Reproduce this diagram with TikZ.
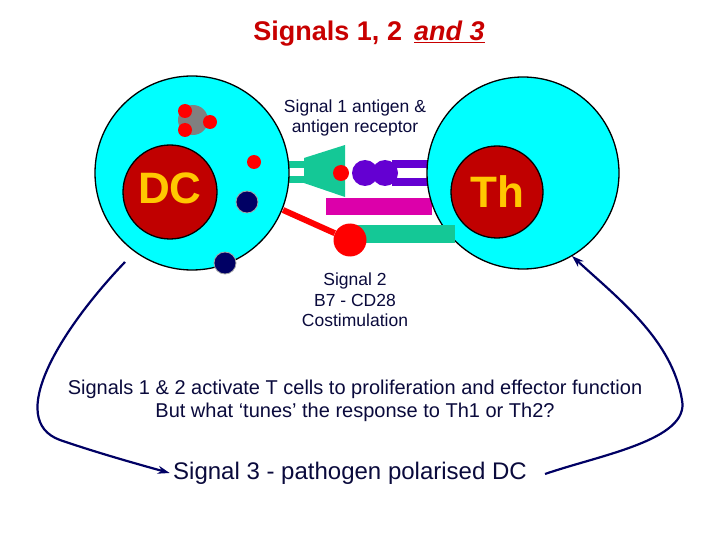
\documentclass[tikz,border=0pt]{standalone}
\usepackage{fontspec}
\setmainfont{Liberation Sans}
\usetikzlibrary{arrows.meta}
\definecolor{cyanc}{RGB}{0,255,255}
\definecolor{nuc}{RGB}{192,0,0}
\definecolor{navy}{RGB}{0,0,100}
\definecolor{txt}{RGB}{10,10,60}
\definecolor{teal}{RGB}{20,200,150}
\definecolor{purp}{RGB}{100,0,210}
\definecolor{mag}{RGB}{220,0,170}
\definecolor{ttl}{RGB}{200,0,0}
\definecolor{yel}{RGB}{255,200,0}
\tikzset{cell/.style={circle,draw=black,line width=1.3pt,fill=cyanc},
 nucl/.style={circle,draw=black,line width=1.3pt,fill=nuc},
 dot/.style={circle,fill=red,inner sep=0pt},
 ndot/.style={circle,fill=navy,draw=gray!70,line width=0.8pt,inner sep=0pt},
 lbl/.style={text=txt,align=center,font=\fontsize{17.5}{20.5}\selectfont},
 arr/.style={draw=navy,line width=2.2pt,-{Stealth[length=12pt,width=8pt]}}}
\begin{document}
\begin{tikzpicture}[x=1pt,y=-1pt]
\useasboundingbox[fill=white] (0,0) rectangle (720,540);
% bars behind cells
\fill[teal] (288,161) rectangle (306,168);
\fill[teal] (288,176) rectangle (306,183);
\fill[purp] (392,160) rectangle (432,168);
\fill[purp] (392,178) rectangle (432,186);
\fill[mag] (326,198) rectangle (432,215);
\node[cell,minimum size=194pt] (dc) at (192,173) {};
\node[cell,minimum size=192pt] (th) at (523,173) {};
\fill[teal] (357,225) rectangle (455,243);
\node[circle,fill=gray,inner sep=0pt,minimum size=30pt] (gb) at (193,120) {};
\node[dot,minimum size=14pt] (r1) at (185,111) {};
\node[dot,minimum size=14pt] (r2) at (210,122) {};
\node[dot,minimum size=14pt] (r3) at (185,130) {};
\node[dot,minimum size=14pt] (r4) at (254,162) {};
\node[ndot,minimum size=22pt] (n1) at (247,202) {};
\node[ndot,minimum size=22pt] (n2) at (225,263) {};
\node[nucl,minimum size=94pt,inner sep=0pt,font=\fontsize{44}{44}\selectfont\bfseries,text=yel] (dcn) at (170,192) {\raisebox{8pt}{DC}};
\node[nucl,minimum size=92pt,inner sep=0pt,font=\fontsize{44}{44}\selectfont\bfseries,text=yel] (thn) at (497,192) {\raisebox{-12pt}{Th}};
% receptor
\fill[teal] (304,158) -- (345,145) -- (345,197) -- (304,183) -- cycle;
\node[circle,fill=purp,inner sep=0pt,minimum size=26pt] (p1) at (365,173) {};
\node[circle,fill=purp,inner sep=0pt,minimum size=26pt] (p2) at (385,173) {};
\node[dot,minimum size=16pt] (ag) at (341,173) {};
% B7
\node[dot,minimum size=33pt] (b7) at (350,240) {};
\coordinate (b7s) at (283,210);
\draw[red,line width=6pt] (b7s) -- (b7);
% text
\node[font=\fontsize{27}{30}\selectfont\bfseries,text=ttl] (title) at (369,34) {Signals 1, 2\, \underline{\itshape and 3}};
\node[lbl] (s1) at (355,118) {Signal 1 antigen \&\\antigen receptor};
\node[lbl] (s2) at (355,300) {Signal 2\\B7 - CD28\\Costimulation};
\node[text=txt,align=center,font=\fontsize{20}{23}\selectfont] (main) at (355,401) {Signals 1 \& 2 activate T cells to proliferation and effector function\\But what `tunes' the response to Th1 or Th2?};
\node[text=txt,font=\fontsize{24}{26}\selectfont] (s3) at (350,473) {Signal 3 - pathogen polarised DC};
% arrows
\coordinate (ls) at (125,262);
\coordinate (rs) at (545,474);
\coordinate (re) at (572,256);
\draw[arr] (ls) .. controls (60,330) and (5,420) .. (60,440) .. controls (95,452) and (130,462) .. (s3.west);
\draw[arr] (rs) .. controls (600,455) and (690,440) .. (682,400) .. controls (672,340) and (620,300) .. (re);
\end{tikzpicture}
\end{document}
